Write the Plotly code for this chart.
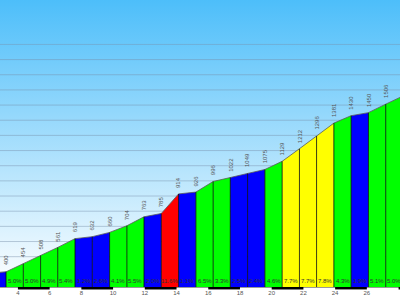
import plotly.graph_objects as go

# ---- data ----
distances_km = [2.16, 3.25, 4.34, 5.43, 6.51, 7.60, 8.69, 9.78, 10.87, 11.95, 13.04,
                14.13, 15.22, 16.31, 17.39, 18.48, 19.57, 20.66, 21.75, 22.83, 23.92,
                25.01, 26.10, 27.19, 28.28]
elevations_m = [388, 400, 454, 508, 561, 619, 632, 660, 704, 763, 785, 914, 926, 996,
                1022, 1049, 1075, 1129, 1212, 1296, 1381, 1430, 1450, 1506, 1560]
grades_pct = [1.1, 5.0, 5.0, 4.9, 5.4, 1.2, 2.6, 4.1, 5.5, 2.0, 11.6, 1.1, 6.5, 3.3,
              2.5, 2.4, 4.6, 7.7, 7.7, 7.8, 4.3, 1.9, 5.1, 5.0]
km_ticks = [2, 4, 6, 8, 10, 12, 14, 16, 18, 20, 22, 24, 26, 28]
grid_levels = list(range(300, 2000, 100))

X_RANGE = [2.87, 28.09]
Y_RANGE = [300, 2193]


def grade_color(g):
    if g < 3:
        return "#0000FF"
    if g < 7:
        return "#00FF00"
    if g < 10:
        return "#FFFF00"
    return "#FF0000"


fig = go.Figure()

# sky gradient background
fig.add_trace(go.Scatter(
    x=[X_RANGE[0], X_RANGE[1], X_RANGE[1], X_RANGE[0]],
    y=[Y_RANGE[0], Y_RANGE[0], Y_RANGE[1], Y_RANGE[1]],
    fill="toself", mode="none", hoverinfo="skip", showlegend=False,
    fillgradient=dict(type="vertical", colorscale=[[0, "#FFFFFF"], [1, "#4DBEFA"]]),
))

# grid lines
gx, gy = [], []
for v in grid_levels:
    gx += [X_RANGE[0], X_RANGE[1], None]
    gy += [v, v, None]
fig.add_trace(go.Scatter(x=gx, y=gy, mode="lines", hoverinfo="skip", showlegend=False,
                         line=dict(color="rgba(120,145,170,0.45)", width=1)))

# coloured segments
for i, g in enumerate(grades_pct):
    fig.add_trace(go.Scatter(
        x=[distances_km[i], distances_km[i + 1]],
        y=[elevations_m[i], elevations_m[i + 1]],
        mode="lines", fill="tozeroy", fillcolor=grade_color(g),
        line=dict(color="rgba(90,90,90,0.8)", width=1),
        hoverinfo="skip", showlegend=False,
    ))

# segment dividers
dx, dy = [], []
for d, e in zip(distances_km[1:-1], elevations_m[1:-1]):
    dx += [d, d, None]
    dy += [Y_RANGE[0], e, None]
fig.add_trace(go.Scatter(x=dx, y=dy, mode="lines", hoverinfo="skip", showlegend=False,
                         line=dict(color="rgba(0,0,0,0.75)", width=1)))

annotations = []
# elevation labels
for d, e in zip(distances_km, elevations_m):
    if X_RANGE[0] <= d <= X_RANGE[1]:
        annotations.append(dict(
            x=d, y=e, xref="x", yref="y", text=str(e), showarrow=False,
            textangle=-90, xanchor="center", yanchor="bottom", yshift=4,
            font=dict(size=6, color="#555555", family="Arial"),
        ))
# grade labels
for i, g in enumerate(grades_pct):
    mid = (distances_km[i] + distances_km[i + 1]) / 2
    annotations.append(dict(
        x=mid, y=Y_RANGE[0], xref="x", yref="y", text=f"{g:.1f}%", showarrow=False,
        xanchor="center", yanchor="bottom", yshift=1,
        font=dict(size=6, color="#333333", family="Arial"),
    ))

# alternating km bars under axis
shapes = []
for k in km_ticks:
    if (k // 2) % 2 == 0:
        shapes.append(dict(type="rect", xref="x", yref="paper",
                           x0=k, x1=k + 2, y0=-0.0085, y1=0,
                           fillcolor="black", line=dict(width=0)))

fig.update_layout(
    width=400, height=300,
    margin=dict(l=0, r=0, t=0, b=13),
    paper_bgcolor="white", plot_bgcolor="white",
    annotations=annotations, shapes=shapes,
    xaxis=dict(range=X_RANGE, tickvals=km_ticks, ticktext=[str(k) for k in km_ticks],
               showgrid=False, zeroline=False, showline=True, linecolor="#999999",
               linewidth=1, ticks="", ticklabelstandoff=0,
               tickfont=dict(size=6, color="#555555", family="Arial")),
    yaxis=dict(range=Y_RANGE, showgrid=False, zeroline=False, showticklabels=False,
               ticks=""),
)

fig.write_html("out.html")
